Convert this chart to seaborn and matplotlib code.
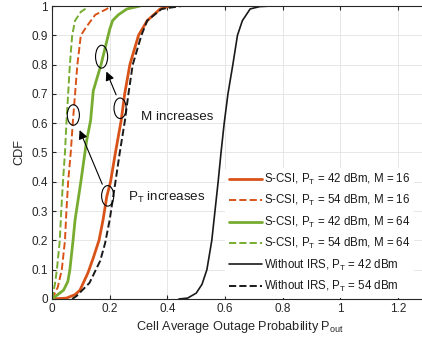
import numpy as np
import pandas as pd
import matplotlib
matplotlib.use('Agg')
import matplotlib.pyplot as plt
import seaborn as sns
from matplotlib.patches import Ellipse

# ============================================================
# Data
# ============================================================
LABELS = [
    'S-CSI, P$_\\mathregular{T}$ = 42 dBm, M = 16',
    'S-CSI, P$_\\mathregular{T}$ = 54 dBm, M = 16',
    'S-CSI, P$_\\mathregular{T}$ = 42 dBm, M = 64',
    'S-CSI, P$_\\mathregular{T}$ = 54 dBm, M = 64',
    'Without IRS, P$_\\mathregular{T}$ = 42 dBm',
    'Without IRS, P$_\\mathregular{T}$ = 54 dBm',
]

# S-CSI, PT = 42 dBm, M = 16
red42_x = [0.0, 0.05, 0.08, 0.097, 0.125, 0.143, 0.163, 0.177, 0.19, 0.203, 0.22, 0.24, 0.252, 0.27, 0.3, 0.33, 0.375, 0.41]
red42_y = [0.0, 0.003, 0.015, 0.03, 0.09, 0.14, 0.2, 0.27, 0.35, 0.4, 0.5, 0.61, 0.7, 0.8, 0.9, 0.95, 0.99, 1.0]

# S-CSI, PT = 54 dBm, M = 16
red54_x = [0.0, 0.02, 0.034, 0.045, 0.05, 0.056, 0.065, 0.072, 0.08, 0.088, 0.1, 0.12, 0.15, 0.19, 0.205]
red54_y = [0.0, 0.04, 0.1, 0.2, 0.3, 0.4, 0.5, 0.6, 0.7, 0.8, 0.9, 0.93, 0.97, 0.99, 1.0]

# S-CSI, PT = 42 dBm, M = 64
grn42_x = [0.0, 0.04, 0.055, 0.062, 0.073, 0.08, 0.1, 0.12, 0.134, 0.143, 0.17, 0.2, 0.21, 0.23, 0.26, 0.305]
grn42_y = [0.0, 0.03, 0.06, 0.1, 0.2, 0.27, 0.4, 0.54, 0.61, 0.71, 0.8, 0.92, 0.95, 0.97, 0.99, 1.0]

# S-CSI, PT = 54 dBm, M = 64
grn54_x = [0.0, 0.01, 0.017, 0.027, 0.032, 0.038, 0.045, 0.05, 0.056, 0.062, 0.07, 0.08, 0.1, 0.115, 0.12]
grn54_y = [0.0, 0.05, 0.1, 0.2, 0.3, 0.4, 0.5, 0.6, 0.7, 0.8, 0.9, 0.95, 0.98, 0.99, 1.0]

# Without IRS, PT = 42 dBm
blk42_x = [0.44, 0.47, 0.5, 0.52, 0.537, 0.554, 0.565, 0.576, 0.586, 0.597, 0.61, 0.627, 0.643, 0.66, 0.687, 0.72, 0.76]
blk42_y = [0.0, 0.003, 0.02, 0.05, 0.1, 0.2, 0.3, 0.4, 0.5, 0.6, 0.7, 0.8, 0.9, 0.95, 0.99, 0.998, 1.0]

# Without IRS, PT = 54 dBm
blk54_x = [0.07, 0.085, 0.13, 0.167, 0.184, 0.2, 0.22, 0.235, 0.253, 0.265, 0.28, 0.31, 0.33, 0.38, 0.45]
blk54_y = [0.0, 0.01, 0.055, 0.13, 0.19, 0.27, 0.4, 0.5, 0.61, 0.7, 0.8, 0.9, 0.95, 0.99, 1.0]

SERIES_X = [red42_x, red54_x, grn42_x, grn54_x, blk42_x, blk54_x]
SERIES_Y = [red42_y, red54_y, grn42_y, grn54_y, blk42_y, blk54_y]

COLORS = ['#D95319', '#D95319', '#77AC30', '#77AC30', '#1a1a1a', '#1a1a1a']
DASHED = [False, True, False, True, False, True]
WIDTHS = [2.0, 1.4, 2.0, 1.4, 1.2, 1.4]

# ============================================================
# Plot
# ============================================================
sns.set_style('whitegrid')
plt.rcParams['font.family'] = ['Liberation Sans', 'DejaVu Sans']
plt.rcParams['mathtext.fontset'] = 'custom'
plt.rcParams['mathtext.rm'] = 'Liberation Sans'
plt.rcParams['mathtext.it'] = 'Liberation Sans'

fig = plt.figure(figsize=(4.22, 3.43), dpi=100)
ax = fig.add_axes([0.1232, 0.1283, 0.8886, 0.8542])

for xs, ys, lab, c, d, w in zip(SERIES_X, SERIES_Y, LABELS, COLORS, DASHED, WIDTHS):
    df = pd.DataFrame({'x': xs, 'y': ys})
    sns.lineplot(data=df, x='x', y='y', ax=ax, sort=False, estimator=None,
                 color=c, lw=w, label=lab, linestyle='--' if d else '-')

# annotations: ellipses and arrows
for cx, cy, w, h in [(0.172, 0.827, 0.042, 0.078), (0.236, 0.651, 0.042, 0.07),
                     (0.074, 0.628, 0.042, 0.07), (0.193, 0.352, 0.042, 0.07)]:
    ax.add_patch(Ellipse((cx, cy), w, h, fill=False, ec='black', lw=0.8, zorder=5))

arrow = dict(arrowstyle='-|>', color='black', lw=0.8, mutation_scale=13)
ax.annotate('', xy=(0.185, 0.785), xytext=(0.226, 0.688), arrowprops=arrow)
ax.annotate('', xy=(0.092, 0.585), xytext=(0.178, 0.383), arrowprops=arrow)
ax.text(0.31, 0.621, 'M increases', fontsize=9.6, va='center', color='#1a1a1a')
ax.text(0.264, 0.345, 'P$_\\mathregular{T}$ increases', fontsize=9.6, va='center', color='#1a1a1a')

ax.set_xlim(0, 1.3)
ax.set_ylim(0, 1)
ax.set_xticks([0, 0.2, 0.4, 0.6, 0.8, 1.0, 1.2])
ax.set_xticklabels(['0', '0.2', '0.4', '0.6', '0.8', '1', '1.2'])
ax.set_yticks(np.arange(0, 1.01, 0.1))
ax.set_yticklabels(['0'] + ['%.1f' % v for v in np.arange(0.1, 0.95, 0.1)] + ['1'])
ax.set_xlabel('Cell Average Outage Probability P$_\\mathregular{out}$', fontsize=9.2, color='#262626', labelpad=3)
ax.set_ylabel('CDF', fontsize=9.2, color='#262626', labelpad=4)
ax.tick_params(direction='in', length=3, labelsize=8.5, colors='#262626', pad=3,
               bottom=True, left=True, top=True, right=True)
ax.grid(True, color='#e3e3e3', lw=0.6)
for sp in ax.spines.values():
    sp.set_color('#262626')
    sp.set_linewidth(0.8)

leg = ax.legend(loc='lower left', bbox_to_anchor=(0.462, 0.005), fontsize=8.3,
                frameon=True, edgecolor='white', facecolor='white', framealpha=1,
                handlelength=2.9, handletextpad=0.2, labelspacing=0.55,
                borderpad=0.3, borderaxespad=0)
leg.get_frame().set_linewidth(0)
for t in leg.get_texts():
    t.set_color('#1a1a1a')

plt.savefig('out.png', dpi=100)
plt.close()
